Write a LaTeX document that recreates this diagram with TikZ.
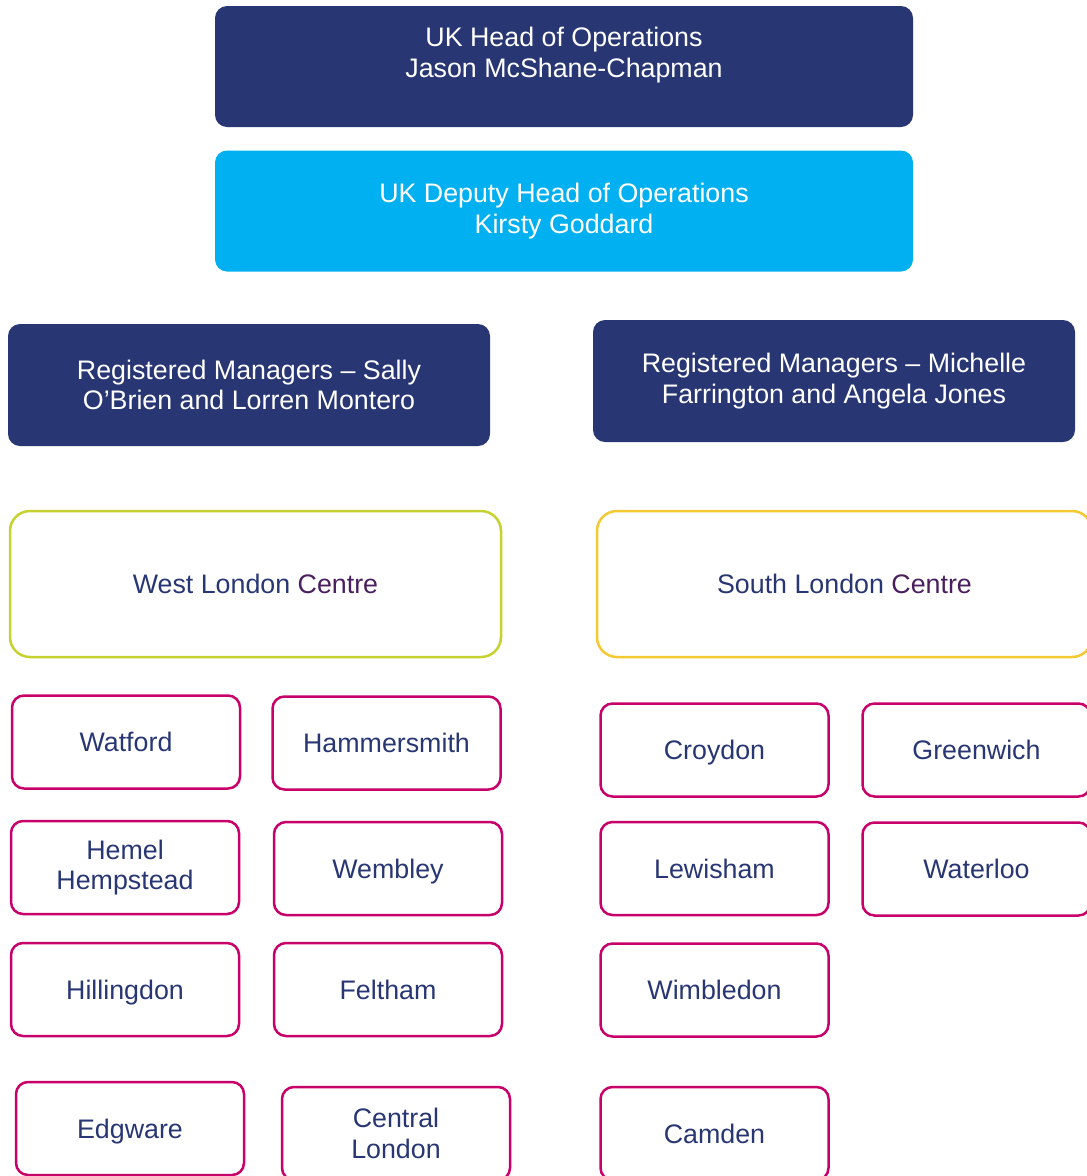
\documentclass[tikz,border=0pt]{standalone}
\usepackage{fontspec}
\setmainfont{Liberation Sans}
\usepackage{xcolor}

\definecolor{navy}{HTML}{283673}
\definecolor{skyblue}{HTML}{00B0F0}
\definecolor{berry}{HTML}{C8006A}
\definecolor{lime}{HTML}{C5D230}
\definecolor{sun}{HTML}{F4C932}
\definecolor{plum}{HTML}{4A1F5E}

\begin{document}
\begin{tikzpicture}[x=1pt, y=-1pt,
    every node/.style={font=\fontsize{26.8}{30.5}\selectfont, align=center},
    lead/.style={rounded corners=12pt, fill=navy, text=white, minimum width=698pt, minimum height=121pt},
    manager/.style={rounded corners=12pt, fill=navy, text=white, minimum width=482pt, minimum height=122pt},
    centre/.style={draw, line width=2.5pt, rounded corners=20pt, text=navy, minimum width=491pt, minimum height=146pt},
    site/.style={draw=berry, line width=2.5pt, rounded corners=12pt, text=navy, minimum width=228pt, minimum height=93pt},
    flat/.style={text depth=0pt}]
    \useasboundingbox (0,0) rectangle (1087,1176);
    \clip (0,0) rectangle (1087,1176);

    % Heads of operations
    \node[lead, text depth=28pt] (head) at (564,66.5) {UK Head of Operations\\Jason McShane-Chapman};
    \node[lead, fill=skyblue] (deputy) at (564,211) {UK Deputy Head of Operations\\Kirsty Goddard};

    % Registered managers
    \node[manager] (westRM) at (249,385) {Registered Managers -- Sally\\O’Brien and Lorren Montero};
    \node[manager] (southRM) at (834,381) {Registered Managers -- Michelle\\Farrington and Angela Jones};

    % Centres
    \node[centre, draw=lime] (west) at (255.5,584) {West London \textcolor{plum}{Centre}};
    \node[centre, draw=sun, minimum width=495pt] (south) at (844.5,584) {South London \textcolor{plum}{Centre}};

    % West London sites
    \node[site] (watford) at (126,742) {Watford};
    \node[site] (hammersmith) at (386.5,743) {Hammersmith};
    \node[site] (hemel) at (125,867.5) {Hemel\\Hempstead};
    \node[site, flat] (wembley) at (388,868.5) {Wembley};
    \node[site, flat] (hillingdon) at (125,989.5) {Hillingdon};
    \node[site] (feltham) at (388,989.5) {Feltham};
    \node[site, flat] (edgware) at (130,1128.5) {Edgware};
    \node[site] (central) at (396,1133.5) {Central\\London};

    % South London sites
    \node[site, flat] (croydon) at (714.5,750) {Croydon};
    \node[site] (greenwich) at (976.5,750) {Greenwich};
    \node[site] (lewisham) at (714.5,868.5) {Lewisham};
    \node[site] (waterloo) at (976.5,869) {Waterloo};
    \node[site] (wimbledon) at (714.5,990) {Wimbledon};
    \node[site] (camden) at (714.5,1133.5) {Camden};
\end{tikzpicture}
\end{document}
